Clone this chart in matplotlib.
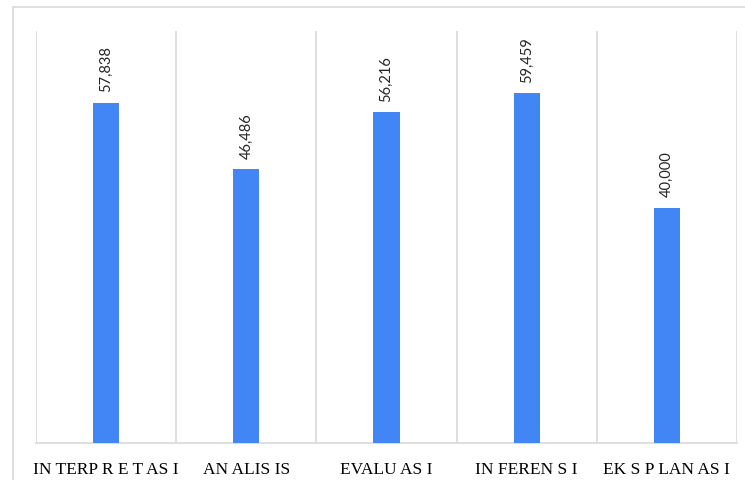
import matplotlib.pyplot as plt
from matplotlib.patches import Rectangle

categories = ["IN TERP R E T AS I", "AN ALIS IS", "EVALU AS I", "IN FEREN S I", "EK S P LAN AS I"]
values = [57.838, 46.486, 56.216, 59.459, 40.000]
value_labels = ["57,838", "46,486", "56,216", "59,459", "40,000"]

BAR_COLOR = "#4285F4"
GRID_COLOR = "#d9d9d9"


def main():
    fig = plt.figure(figsize=(7.45, 4.81), dpi=100)
    W, H = 745, 481

    # outer chart border (runs off the right/bottom edge of the picture)
    fig.patches.append(Rectangle((13 / W, -0.1), 1.0, 1 - 8 / H + 0.1,
                                 transform=fig.transFigure, fill=False,
                                 edgecolor=GRID_COLOR, linewidth=1.2))

    ax = fig.add_axes([36 / W, (H - 444) / H, (737 - 36) / W, (444 - 32) / H])
    x = range(len(categories))
    ax.bar(x, values, width=0.186, color=BAR_COLOR, zorder=3)

    for i in range(len(categories) + 1):
        ax.axvline(i - 0.5, color=GRID_COLOR, linewidth=1.2, zorder=1)

    for i, (v, lab) in enumerate(zip(values, value_labels)):
        ax.annotate(lab, (i, v), xytext=(0, 8), textcoords="offset points",
                    rotation=90, ha="center", va="bottom",
                    fontsize=10.5, family="Lato", color="#262626")

    ax.set_xlim(-0.5, len(categories) - 0.5)
    ax.set_ylim(0, 70)
    ax.set_xticks(list(x))
    ax.set_xticklabels(categories, family="Liberation Serif", fontsize=12.5)
    ax.tick_params(axis="x", length=0, pad=13)
    ax.set_yticks([])
    for side in ["top", "left", "right"]:
        ax.spines[side].set_visible(False)
    ax.spines["bottom"].set_color(GRID_COLOR)
    ax.spines["bottom"].set_linewidth(1.2)
    ax.set_facecolor("none")

    fig.savefig("out.png", dpi=100)


if __name__ == "__main__":
    main()
